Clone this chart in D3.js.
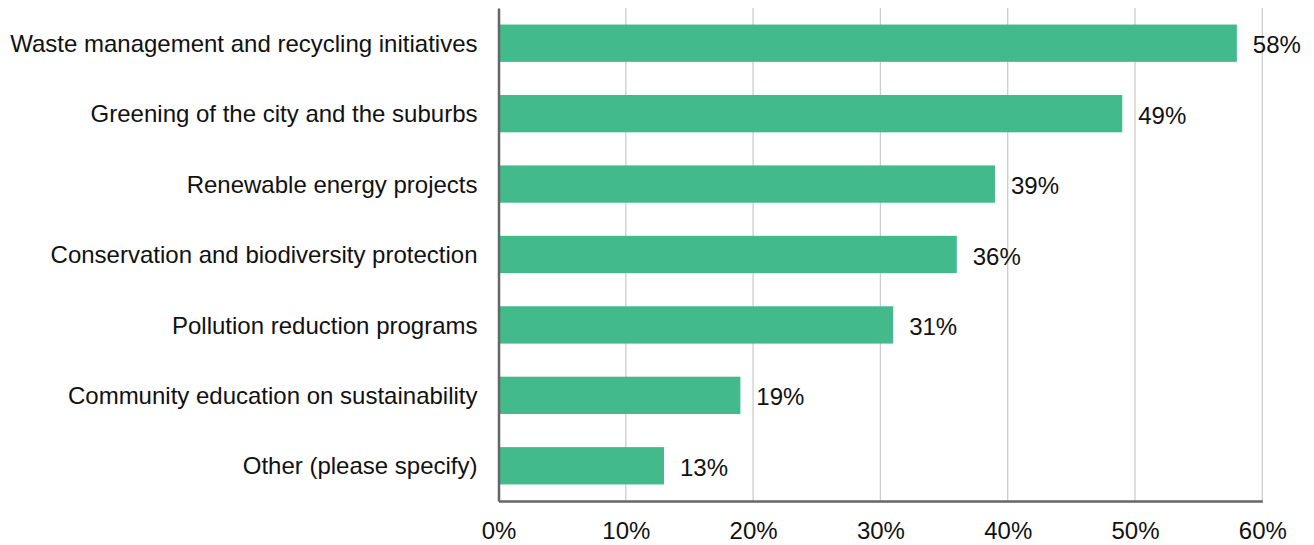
<!DOCTYPE html>
<html><head><meta charset="utf-8">
<script src="https://cdn.jsdelivr.net/npm/d3@7"></script>
<style>body{margin:0;background:#fff;} text{font-family:"Liberation Sans",Arial,sans-serif;fill:#111;}</style>
</head><body><svg id="c" width="1314" height="545"></svg>
<script>
const categories = ["Waste management and recycling initiatives","Greening of the city and the suburbs","Renewable energy projects","Conservation and biodiversity protection","Pollution reduction programs","Community education on sustainability","Other (please specify)"];
const values = [58,49,39,36,31,19,13];
const tickValues = [0,10,20,30,40,50,60];

const svg = d3.select("#c");
const mLeft = 498.5, mRight = 1262.3, mTop = 8, mBottom = 501;
const fs = 24;
const x = d3.scaleLinear().domain([0,60]).range([mLeft,mRight]);
const y = d3.scaleBand().domain(categories).range([mTop,mBottom]).paddingInner(0.47).paddingOuter(0.235);

// gridlines
svg.append("g").selectAll("line").data(tickValues.slice(1)).join("line")
  .attr("x1",d=>x(d)).attr("x2",d=>x(d)).attr("y1",mTop).attr("y2",mBottom)
  .attr("stroke","#cccccc").attr("stroke-width",1.3);

// bars
svg.append("g").selectAll("rect").data(values).join("rect")
  .attr("x",x(0)).attr("y",(d,i)=>y(categories[i]))
  .attr("width",d=>x(d)-x(0)).attr("height",y.bandwidth())
  .attr("fill","#42ba8c");

// value labels
svg.append("g").selectAll("text").data(values).join("text")
  .attr("x",d=>x(d)+16).attr("y",(d,i)=>y(categories[i])+y.bandwidth()/2)
  .attr("dy","0.42em").attr("font-size",fs).text(d=>d+"%");

// axes
const xAxis = d3.axisBottom(x).tickValues(tickValues).tickFormat(d=>d+"%").tickSize(0).tickPadding(21);
const gx = svg.append("g").attr("transform",`translate(0,${mBottom})`).call(xAxis);
gx.select(".domain").attr("stroke","#666").attr("stroke-width",2.5);
gx.selectAll("text").attr("font-size",fs).attr("font-family","Liberation Sans, Arial, sans-serif").attr("fill","#111");

const yAxis = d3.axisLeft(y).tickSize(0).tickPadding(21);
const gy = svg.append("g").attr("transform",`translate(${mLeft},0)`).call(yAxis);
gy.select(".domain").attr("stroke","#666").attr("stroke-width",2.5);
gy.selectAll("text").attr("font-size",fs).attr("dy","0.36em").attr("font-family","Liberation Sans, Arial, sans-serif").attr("fill","#111");
</script></body></html>
